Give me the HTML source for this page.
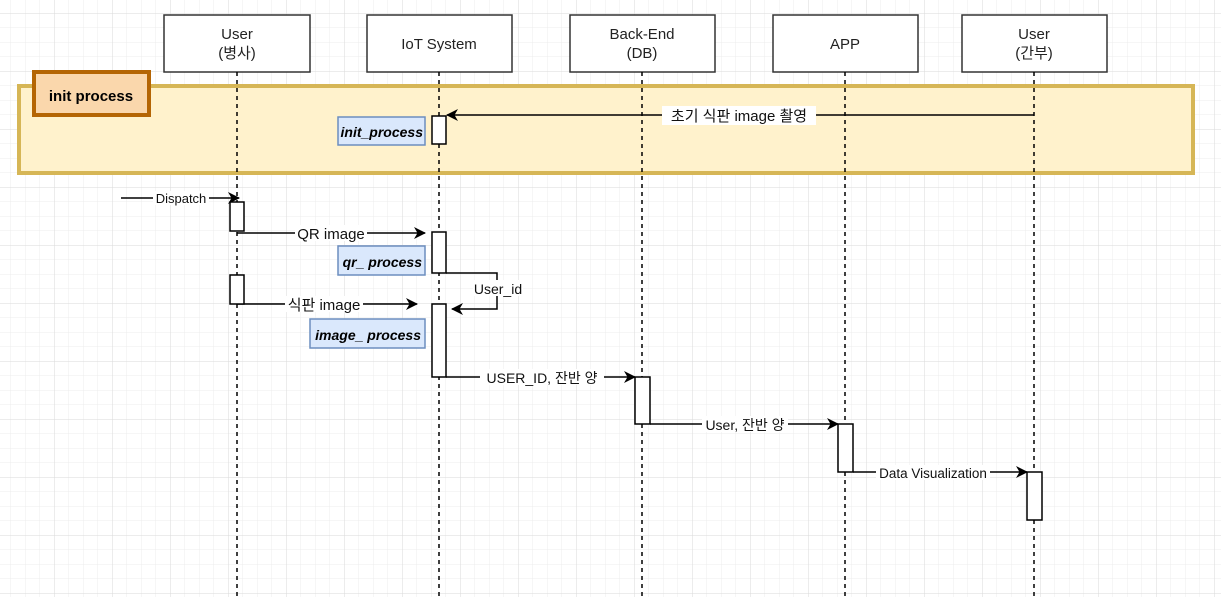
<!DOCTYPE html>
<html><head><meta charset="utf-8"><style>
html,body{margin:0;padding:0;background:#fff;}
svg{display:block;}
text{font-family:"Liberation Sans","Noto Sans CJK KR",sans-serif;}
</style></head><body>
<svg width="1221" height="597" viewBox="0 0 1221 597" xmlns="http://www.w3.org/2000/svg">
<defs>
<pattern id="minor" x="54" y="13" width="14.5" height="14.5" patternUnits="userSpaceOnUse">
<path d="M0 0H14.5M0 0V14.5" stroke="#ececec" stroke-width="1" fill="none"/>
</pattern>
<pattern id="major" x="54" y="13" width="58" height="58" patternUnits="userSpaceOnUse">
<path d="M0 0H58M0 0V58" stroke="#dadada" stroke-width="1" fill="none"/>
</pattern>
<marker id="ar" markerWidth="12" markerHeight="12" refX="11" refY="6" orient="auto" markerUnits="userSpaceOnUse">
<path d="M0 0L12 6L0 12L3.5 6Z" fill="#000"/>
</marker>
</defs>
<rect width="1221" height="597" fill="url(#minor)"/>
<rect width="1221" height="597" fill="url(#major)"/>

<rect x="19" y="86" width="1174" height="87" fill="#fff2cc" stroke="#d6b656" stroke-width="4"/>
<rect x="34" y="72" width="115" height="43" fill="#fad7ac" stroke="#b46504" stroke-width="4"/>
<text x="91" y="101" font-size="15" font-weight="bold" text-anchor="middle">init process</text>

<g fill="#fff" stroke="#333" stroke-width="1.5">
<rect x="164" y="15" width="146" height="57"/>
<rect x="367" y="15" width="145" height="57"/>
<rect x="570" y="15" width="145" height="57"/>
<rect x="773" y="15" width="145" height="57"/>
<rect x="962" y="15" width="145" height="57"/>
</g>
<g font-size="15" text-anchor="middle" fill="#222">
<text x="237" y="39">User</text><text x="237" y="58">(병사)</text>
<text x="439" y="49">IoT System</text>
<text x="642" y="39">Back-End</text><text x="642" y="58">(DB)</text>
<text x="845" y="49">APP</text>
<text x="1034" y="39">User</text><text x="1034" y="58">(간부)</text>
</g>

<g stroke="#000" stroke-width="1.5" stroke-dasharray="4,4">
<line x1="237" y1="72" x2="237" y2="597"/>
<line x1="439" y1="72" x2="439" y2="597"/>
<line x1="642" y1="72" x2="642" y2="597"/>
<line x1="845" y1="72" x2="845" y2="597"/>
<line x1="1034" y1="72" x2="1034" y2="597"/>
</g>

<g fill="#dae8fc" stroke="#6c8ebf" stroke-width="1.5">
<rect x="338" y="117" width="87" height="28"/>
<rect x="338" y="246" width="87" height="29"/>
<rect x="310" y="319" width="115" height="29"/>
</g>
<g font-size="14" font-weight="bold" font-style="italic" text-anchor="end">
<text x="423" y="137">init_process</text>
<text x="422" y="267">qr_ process</text>
<text x="421" y="340">image_ process</text>
</g>

<g stroke="#000" stroke-width="1.5" fill="none">
<line x1="1034" y1="115" x2="447" y2="115" marker-end="url(#ar)"/>
<line x1="121" y1="198" x2="239" y2="198" marker-end="url(#ar)"/>
<line x1="237" y1="233" x2="425" y2="233" marker-end="url(#ar)"/>
<polyline points="446,273 497,273 497,309 452,309" marker-end="url(#ar)"/>
<line x1="237" y1="304" x2="417" y2="304" marker-end="url(#ar)"/>
<line x1="446" y1="377" x2="635" y2="377" marker-end="url(#ar)"/>
<line x1="650" y1="424" x2="838" y2="424" marker-end="url(#ar)"/>
<line x1="853" y1="472" x2="1027" y2="472" marker-end="url(#ar)"/>
</g>

<g fill="#fff" stroke="#000" stroke-width="1.5">
<rect x="432" y="116" width="14" height="28"/>
<rect x="230" y="202" width="14" height="29"/>
<rect x="432" y="232" width="14" height="41"/>
<rect x="230" y="275" width="14" height="29"/>
<rect x="432" y="304" width="14" height="73"/>
<rect x="635" y="377" width="15" height="47"/>
<rect x="838" y="424" width="15" height="48"/>
<rect x="1027" y="472" width="15" height="48"/>
</g>

<g font-size="15" text-anchor="middle" fill="#111">
<rect x="662" y="106" width="154" height="19" fill="#fff"/>
<text x="739" y="121">초기 식판 image 촬영</text>
<rect x="153" y="191" width="56" height="14" fill="#fff"/>
<text x="181" y="203" font-size="13">Dispatch</text>
<rect x="295" y="225" width="72" height="16" fill="#fff"/>
<text x="331" y="239">QR image</text>
<rect x="473" y="280" width="50" height="16" fill="#fff"/>
<text x="498" y="294" font-size="14">User_id</text>
<rect x="285" y="296" width="78" height="16" fill="#fff"/>
<text x="324" y="310">식판 image</text>
<rect x="480" y="369" width="124" height="16" fill="#fff"/>
<text x="542" y="383" font-size="14">USER_ID,  잔반 양</text>
<rect x="702" y="416" width="86" height="16" fill="#fff"/>
<text x="745" y="430" font-size="14">User, 잔반 양</text>
<rect x="876" y="465" width="114" height="15" fill="#fff"/>
<text x="933" y="478" font-size="13.5">Data Visualization</text>
</g>
</svg>
</body></html>
